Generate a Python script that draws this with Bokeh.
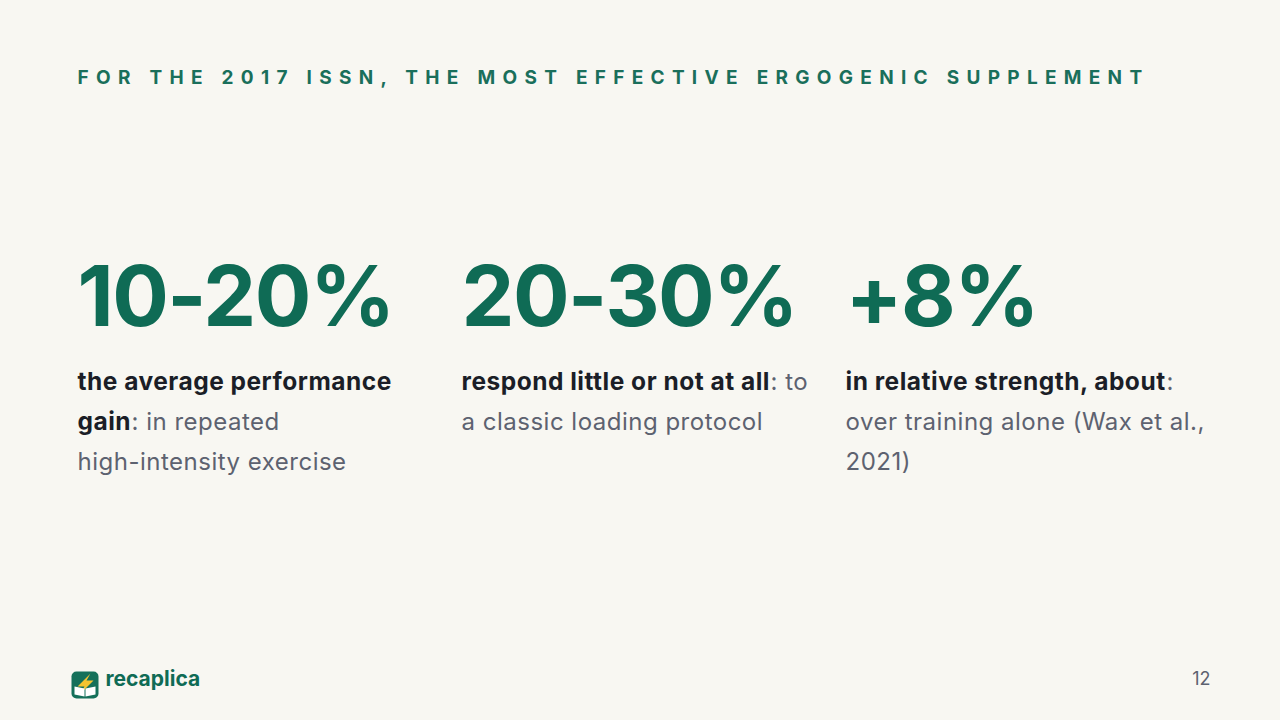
from bokeh.plotting import figure
from bokeh.layouts import column
from bokeh.models import Range1d, ColumnDataSource, GlobalInlineStyleSheet
from bokeh.core.properties import value
from bokeh.embed import file_html
from bokeh.resources import INLINE

# ---- content ----
title_text = "FOR THE 2017 ISSN, THE MOST EFFECTIVE ERGOGENIC SUPPLEMENT"
stat_values = ["10-20%", "20-30%", "+8%"]
# per column: list of lines, each line a list of (text, is_bold)
desc_lines = [
    [[("the average performance", True)],
     [("gain", True), (": in repeated", False)],
     [("high-intensity exercise", False)]],
    [[("respond little or not at all", True), (": to", False)],
     [("a classic loading protocol", False)]],
    [[("in relative strength, about", True), (":", False)],
     [("over training alone (Wax et al.,", False)],
     [("2021)", False)]],
]
# x offset (px) of a regular segment that follows a bold one on the same line
follow_offsets = [[0, 54, 0], [309, 0], [321, 0, 0]]
brand_name = "recaplica"
page_number = "12"

# ---- style ----
BG = "#f8f7f2"
TEAL = "#0f6b55"
TITLE_TEAL = "#1a6f5b"
DARK = "#1b1e27"
GREY = "#5d6270"
FONT = "Inter"
W = 1280
SHIFT = 0.37  # svg alphabetic baseline correction (em)


def band(y0, y1, spacing):
    f = figure(width=W, height=y1 - y0, output_backend="svg", toolbar_location=None,
               x_range=Range1d(0, W), y_range=Range1d(y1, y0),
               min_border=0, background_fill_color=BG, border_fill_color=BG,
               outline_line_color=None)
    f.axis.visible = False
    f.grid.visible = False
    f.styles = {"letter-spacing": spacing}
    return f


def bl(y, fs):
    return y - SHIFT * fs


col_x = [77, 461, 845]

# title band
f_title = band(0, 150, "7.3px")
f_title.text(x=[77], y=[bl(84, 19)], text=[title_text], text_font=value(FONT),
             text_font_style="bold", text_font_size="19px", text_color=TITLE_TEAL,
             text_baseline="alphabetic")

# big stats band
f_nums = band(150, 345, "-1.5px")
f_nums.text(x=col_x, y=[bl(326, 84)] * 3, text=stat_values, text_font=value(FONT),
            text_font_style="bold", text_font_size="84px", text_color=TEAL,
            text_baseline="alphabetic")

# descriptions band
f_desc = band(345, 620, "0.5px")
bx, by, bt, rx, ry, rt = [], [], [], [], [], []
for ci, lines in enumerate(desc_lines):
    for li, segs in enumerate(lines):
        y = 390 + 40 * li
        for si, (t, bold) in enumerate(segs):
            x = col_x[ci] + (follow_offsets[ci][li] if si > 0 else 0)
            if bold:
                bx.append(x); by.append(bl(y, 24.5)); bt.append(t)
            else:
                rx.append(x); ry.append(bl(y, 24)); rt.append(t)

f_desc.text(x="x", y="y", text="t", source=ColumnDataSource(dict(x=bx, y=by, t=bt)),
            text_font=value(FONT), text_font_style="bold", text_font_size="24.5px",
            text_color=DARK, text_baseline="alphabetic")
f_desc.text(x="x", y="y", text="t", source=ColumnDataSource(dict(x=rx, y=ry, t=rt)),
            text_font=value(FONT), text_font_style="normal", text_font_size="24px",
            text_color=GREY, text_baseline="alphabetic")

# footer band
f_foot = band(620, 720, "normal")
f_foot.quad(left=[71], right=[98], top=[671], bottom=[698], fill_color="#15705a",
            line_color=None, border_radius=5)
f_foot.patch(x=[90, 77, 84, 80, 93, 86, 90], y=[673, 686, 686, 693, 680, 680, 673],
             fill_color="#f4c430", line_color=None)
f_foot.patch(x=[74, 84, 84, 74], y=[686, 688, 696, 694], fill_color="white", line_color=None)
f_foot.patch(x=[85, 95, 95, 85], y=[688, 686, 694, 696], fill_color="white", line_color=None)

f_foot.text(x=[105], y=[bl(686, 21)], text=[brand_name], text_font=value(FONT),
            text_font_style="bold", text_font_size="21px", text_color=TEAL,
            text_baseline="alphabetic")
f_foot.text(x=[1210], y=[bl(684, 18)], text=[page_number], text_font=value(FONT),
            text_font_size="18px", text_color=GREY, text_align="right",
            text_baseline="alphabetic")

p = column(f_title, f_nums, f_desc, f_foot, spacing=0)
p.stylesheets = [GlobalInlineStyleSheet(css="body{background:%s;}" % BG)]

open("out.html", "w").write(file_html(p, INLINE))
